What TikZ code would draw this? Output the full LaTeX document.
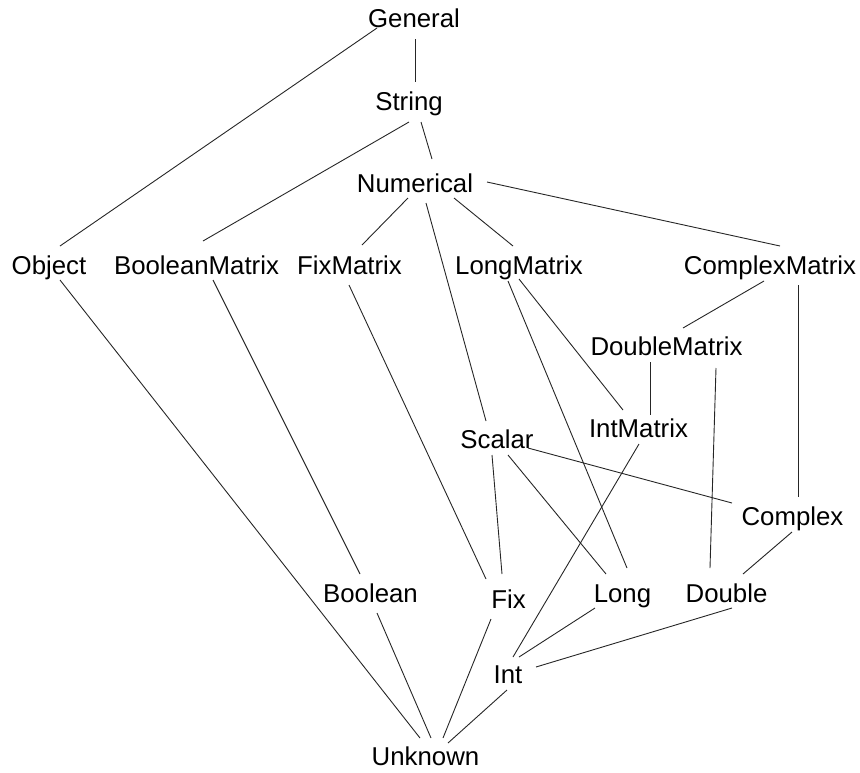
\documentclass[tikz,border=0pt]{standalone}
\usepackage{fontspec}
\setmainfont{Liberation Sans}
\usetikzlibrary{calc}
\begin{document}
\begin{tikzpicture}[x=1pt,y=-1pt,
  typename/.style={anchor=base,inner sep=0pt,font=\fontsize{25.8}{30}\selectfont},
  edge/.style={draw=black!85,line width=0.9pt}]
\useasboundingbox (0,0) rectangle (860,772);
% type names, placed by baseline
\node[typename] (general)   at (414,27)    {General};
\node[typename] (string)    at (409,110)   {String};
\node[typename] (numerical) at (415,192)   {Numerical};
\node[typename] (object)    at (49,274)    {Object};
\node[typename] (boolmat)   at (196.5,274) {BooleanMatrix};
\node[typename] (fixmat)    at (349.5,274) {FixMatrix};
\node[typename] (longmat)   at (519,274)   {LongMatrix};
\node[typename] (cplxmat)   at (770,274)   {ComplexMatrix};
\node[typename] (dblmat)    at (666.5,355) {DoubleMatrix};
\node[typename] (intmat)    at (638.5,437) {IntMatrix};
\node[typename] (scalar)    at (497,448)   {Scalar};
\node[typename] (complex)   at (792.5,525) {Complex};
\node[typename] (boolean)   at (370.5,602) {Boolean};
\node[typename] (fix)       at (508.5,608) {Fix};
\node[typename] (long)      at (622.5,602) {Long};
\node[typename] (double)    at (726.5,602) {Double};
\node[typename] (int)       at (508,683)   {Int};
\node[typename] (unknown)   at (425.5,765) {Unknown};
% subtype relations
\draw[edge] ($(general.base)+(1,12)$)     -- ($(string.base)+(6,-28)$);
\draw[edge] ($(general.base)+(-37,1)$)    -- ($(object.base)+(11,-28)$);
\draw[edge] ($(string.base)+(0,12)$)      -- ($(boolmat.base)+(6.5,-33)$);
\draw[edge] ($(string.base)+(12,12)$)     -- ($(numerical.base)+(17,-33)$);
\draw[edge] ($(numerical.base)+(72,-10)$) -- ($(cplxmat.base)+(10,-28)$);
\draw[edge] ($(numerical.base)+(-7,6)$)   -- ($(fixmat.base)+(12.5,-29)$);
\draw[edge] ($(numerical.base)+(11,11)$)  -- ($(scalar.base)+(-11,-27)$);
\draw[edge] ($(numerical.base)+(39,6)$)   -- ($(longmat.base)+(-6,-28)$);
\draw[edge] ($(object.base)+(11,6)$)      -- ($(unknown.base)+(-5.5,-27)$);
\draw[edge] ($(boolmat.base)+(16.5,6)$)   -- ($(boolean.base)+(-10.5,-28)$);
\draw[edge] ($(fixmat.base)+(-0.5,11)$)   -- ($(fix.base)+(-22.5,-29)$);
\draw[edge] ($(longmat.base)+(-11,7)$)    -- ($(long.base)+(4.5,-34)$);
\draw[edge] ($(longmat.base)+(0,5)$)      -- ($(intmat.base)+(-15.5,-27)$);
\draw[edge] ($(cplxmat.base)+(-6,7)$)     -- ($(dblmat.base)+(16.5,-27)$);
\draw[edge] ($(cplxmat.base)+(28,11)$)    -- ($(complex.base)+(5.5,-28)$);
\draw[edge] ($(dblmat.base)+(-16.5,7)$)   -- ($(intmat.base)+(11.5,-22)$);
\draw[edge] ($(dblmat.base)+(49.5,13)$)   -- ($(double.base)+(-16.5,-34)$);
\draw[edge] ($(intmat.base)+(0.5,7)$)     -- ($(int.base)+(5,-26)$);
\draw[edge] ($(scalar.base)+(31,0)$)      -- ($(complex.base)+(-60.5,-22)$);
\draw[edge] ($(scalar.base)+(-5,7)$)      -- ($(fix.base)+(-6.5,-34)$);
\draw[edge] ($(scalar.base)+(11,7)$)      -- ($(long.base)+(-16.5,-28)$);
\draw[edge] ($(complex.base)+(-0.5,7)$)   -- ($(double.base)+(16.5,-28)$);
\draw[edge] ($(boolean.base)+(6.5,11)$)   -- ($(unknown.base)+(5.5,-27)$);
\draw[edge] ($(fix.base)+(-17.5,11)$)     -- ($(unknown.base)+(17.5,-27)$);
\draw[edge] ($(long.base)+(-27.5,6)$)     -- ($(int.base)+(11,-26)$);
\draw[edge] ($(double.base)+(5.5,6)$)     -- ($(int.base)+(28,-16)$);
\draw[edge] ($(int.base)+(-1,7)$)         -- ($(unknown.base)+(22.5,-22)$);
\end{tikzpicture}
\end{document}
